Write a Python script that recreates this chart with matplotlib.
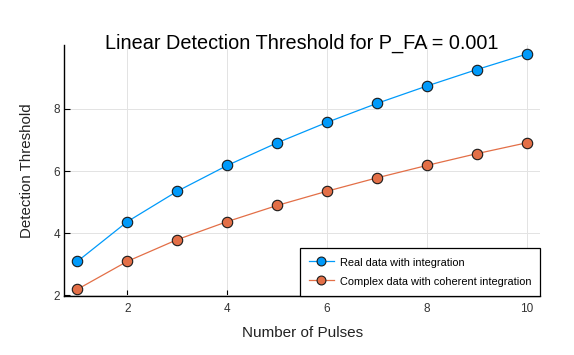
import matplotlib
matplotlib.use("Agg")
import matplotlib.pyplot as plt

pulses = [1, 2, 3, 4, 5, 6, 7, 8, 9, 10]
real_thresh = [3.09, 4.37, 5.35, 6.18, 6.91, 7.57, 8.18, 8.74, 9.27, 9.77]
complex_thresh = [2.19, 3.09, 3.79, 4.37, 4.89, 5.35, 5.78, 6.18, 6.56, 6.91]
labels = ["Real data with integration", "Complex data with coherent integration"]
xticks = [2, 4, 6, 8, 10]
yticks = [2, 4, 6, 8]

plt.rcParams['font.family'] = ['Liberation Sans', 'DejaVu Sans']

fig = plt.figure(figsize=(5.74, 3.55), dpi=100)
ax = fig.add_axes([0.1115, 0.166, 0.8295, 0.707])

c1 = '#009AFA'
c2 = '#E36F47'
ax.plot(pulses, real_thresh, '-o', color=c1, lw=0.9, markersize=7.5,
        markerfacecolor=c1, markeredgecolor='#1a1a1a', markeredgewidth=0.8, label=labels[0])
ax.plot(pulses, complex_thresh, '-o', color=c2, lw=0.9, markersize=7.5,
        markerfacecolor=c2, markeredgecolor='#1a1a1a', markeredgewidth=0.8, label=labels[1])

ax.set_xlim(0.73, 10.27)
ax.set_ylim(1.97, 10.06)
ax.set_xticks(xticks)
ax.set_yticks(yticks)
ax.grid(True, color='#e3e3e3', lw=0.7)
ax.set_axisbelow(True)
for s in ['top', 'right']:
    ax.spines[s].set_visible(False)
for s in ['left', 'bottom']:
    ax.spines[s].set_color('black')
    ax.spines[s].set_linewidth(1.0)
ax.tick_params(direction='in', length=4, width=0.8, labelsize=8.5, colors='black',
               labelcolor='#333333')
ax.tick_params(axis='x', pad=5)
ax.tick_params(axis='y', pad=3)

ax.set_title("Linear Detection Threshold for P_FA = 0.001", fontsize=14.3, y=1.0, pad=-2.5)
ax.set_xlabel("Number of Pulses", fontsize=11, labelpad=8, color='#222222')
ax.set_ylabel("Detection Threshold", fontsize=10.8, labelpad=14, color='#222222')

leg = ax.legend(loc='lower right', borderaxespad=0, fontsize=7.9, fancybox=False,
                edgecolor='black', framealpha=1, handlelength=2.3, borderpad=0.75,
                handleheight=1.4, labelspacing=0.55, handletextpad=0.6,
                markerscale=0.85)
leg.get_frame().set_linewidth(0.9)

fig.savefig("out.png", dpi=100)
